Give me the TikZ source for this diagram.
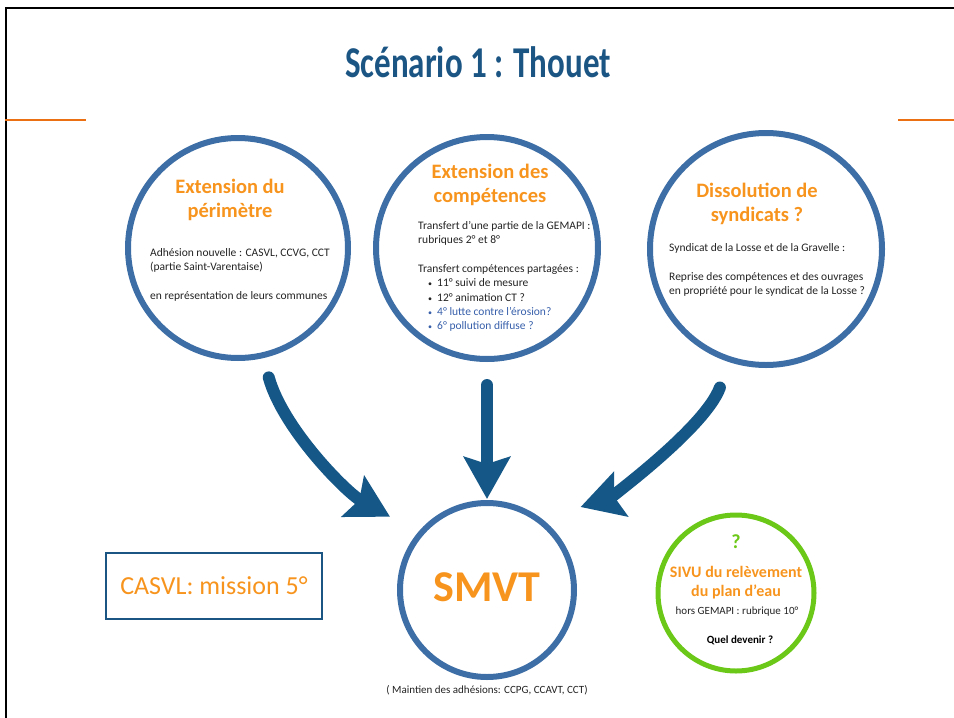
\documentclass[tikz,border=0pt]{standalone}
\usepackage{fontspec}
\setmainfont{Carlito}
\newfontfamily\titlefont[FakeStretch=0.75]{Carlito}
\usetikzlibrary{calc}
\usetikzlibrary{arrows.meta}

\definecolor{titleblue}{RGB}{27,85,132}
\definecolor{ringblue}{RGB}{62,110,166}
\definecolor{arrowblue}{RGB}{21,88,135}
\definecolor{headorange}{RGB}{247,148,30}
\definecolor{lineorange}{RGB}{235,112,20}
\definecolor{ringgreen}{RGB}{108,200,24}
\definecolor{bodygray}{RGB}{35,35,35}
\definecolor{bulletblue}{RGB}{55,95,170}

\newcommand{\dotitem}{\hspace*{10pt}{\fontsize{8}{8}\selectfont•}\hspace*{5pt}}

\tikzset{
  ring/.style={circle, draw=ringblue, line width=6pt, inner sep=0pt, minimum size=#1},
  headtext/.style={text=headorange, font=\fontsize{20.5}{24}\selectfont\bfseries, align=center},
  bodytext/.style={text=bodygray, font=\fontsize{11.5}{14.3}\selectfont, align=left, inner sep=0pt},
  bigarrow/.style={arrowblue, line width=12pt, line cap=round, -{Stealth[length=42pt,width=46pt,inset=7pt]}}
}

\begin{document}
\begin{tikzpicture}[x=1pt,y=-1pt]
\useasboundingbox (0,0) rectangle (954,718);

% Frame and title
\draw[line width=2.5pt] (6,718) -- (6,8) -- (954,8);
\draw[lineorange, line width=2pt] (5,120) -- (86,120);
\draw[lineorange, line width=2pt] (898,120) -- (954,120);
\node[text=titleblue, font=\titlefont\fontsize{44}{44}\selectfont\bfseries] (title) at (478,62) {Scénario 1 : Thouet};

% Upper circles
\node[ring=220pt] (perim) at (238,248) {};
\node[ring=222pt] (compet) at (487,248) {};
\node[ring=232pt] (dissol) at (766,249) {};

% Extension du perimetre
\node[headtext] (perimhead) at (230,200) {Extension du\\périmètre};
\node[bodytext, anchor=west] (perimbody) at (150,274.5)
  {Adhésion nouvelle : CASVL, CCVG, CCT\\(partie Saint-Varentaise)\\[14.3pt]en représentation de leurs communes};

% Extension des competences
\node[headtext] (comphead) at (490,185) {Extension des\\compétences};
\node[bodytext, anchor=west] (compbody) at (418,276.5)
  {Transfert d'une partie de la GEMAPI :\\rubriques 2° et 8°\\[14.3pt]Transfert compétences partagées :\\
   \dotitem 11° suivi de mesure\\
   \dotitem 12° animation CT ?\\
   \textcolor{bulletblue}{\dotitem 4° lutte contre l'érosion?}\\
   \textcolor{bulletblue}{\dotitem 6° pollution diffuse ?}};

% Dissolution de syndicats
\node[headtext] (dissolhead) at (757,203.5) {Dissolution de\\syndicats ?};
\node[bodytext, anchor=west] (dissolbody) at (669,270)
  {Syndicat de la Losse et de la Gravelle :\\[14.3pt]Reprise des compétences et des ouvrages\\en propriété pour le syndicat de la Losse ?};

% SMVT
\node[ring=174pt] (smvt) at (487,590) {};
\node[text=headorange, font=\fontsize{44}{44}\selectfont\bfseries] (smvtlabel) at (487,587) {SMVT};
\node[text=bodygray, font=\fontsize{11}{13}\selectfont] (adhesions) at (487,690) {( Maintien des adhésions: CCPG, CCAVT, CCT)};

% CASVL
\node[draw=titleblue, line width=2.5pt, minimum width=216pt, minimum height=66pt,
  text=headorange, font=\fontsize{26}{26}\selectfont] (casvl) at (214,586) {CASVL: mission 5°};

% SIVU
\node[ring=156pt, draw=ringgreen, line width=5pt] (sivu) at (736,593) {};
\node[text=ringgreen, font=\fontsize{20}{20}\selectfont\bfseries] (sivuq) at (736,542) {?};
\node[headtext, font=\fontsize{16}{19}\selectfont\bfseries] (sivuhead) at (736,582.5) {SIVU du relèvement\\du plan d'eau};
\node[text=bodygray, font=\fontsize{11}{13}\selectfont] (sivubody) at (737,612) {hors GEMAPI : rubrique 10°};
\node[font=\fontsize{11}{13}\selectfont\bfseries] (sivuend) at (740,640) {Quel devenir ?};

% Arrows
\draw[bigarrow, shorten <=20pt, shorten >=32pt]
  (perim.-77) .. controls (283,429) and (347,493) .. (smvt.140);
\draw[bigarrow, shorten <=23pt, shorten >=1pt] (compet.south) -- (smvt.north);
\draw[bigarrow, shorten <=27pt, shorten >=40pt]
  (dissol.-108) .. controls (705,428) and (609,498) .. (smvt.52);

\end{tikzpicture}
\end{document}
